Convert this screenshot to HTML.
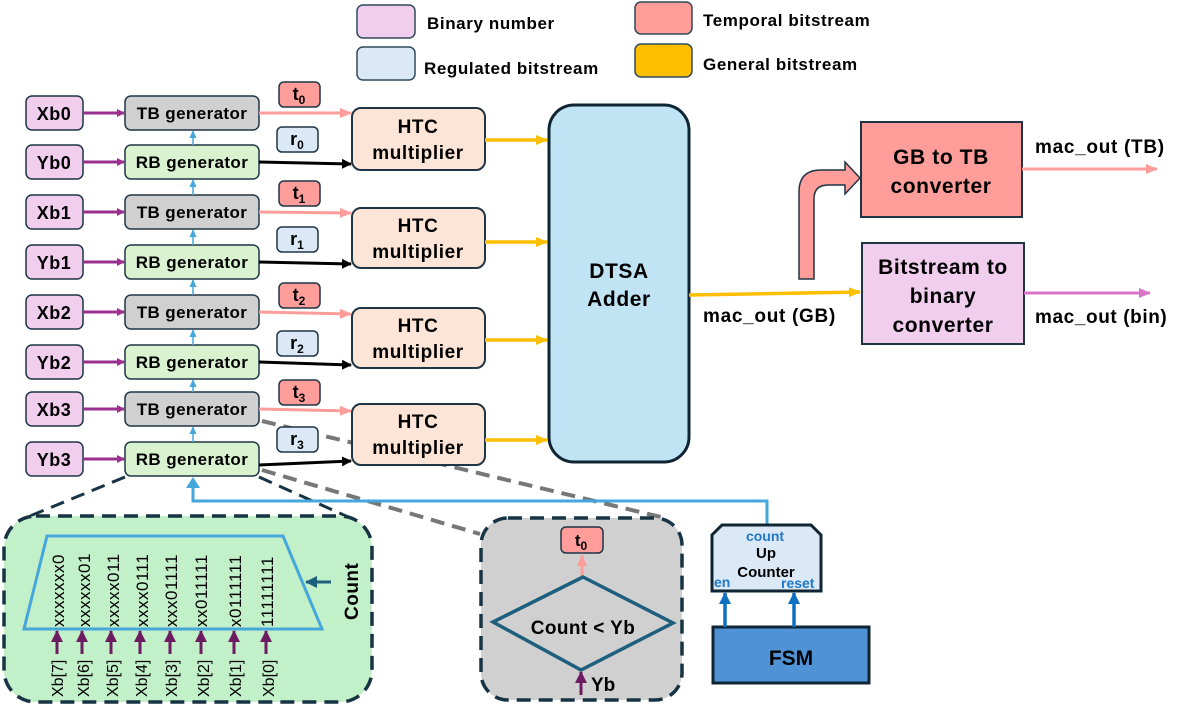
<!DOCTYPE html>
<html><head><meta charset="utf-8"><style>
body{margin:0;background:#fff}
svg{display:block;font-family:"Liberation Sans",sans-serif;font-weight:bold}
</style></head><body>
<svg width="1202" height="708" viewBox="0 0 1202 708" xmlns="http://www.w3.org/2000/svg">
<defs>
<marker id="ap" markerWidth="8" markerHeight="8" refX="7" refY="4" orient="auto" markerUnits="userSpaceOnUse"><path d="M0,0L8,4L0,8z" fill="#9b2f8f"/></marker>
<marker id="ak" markerWidth="10" markerHeight="10" refX="9" refY="5" orient="auto" markerUnits="userSpaceOnUse"><path d="M0,0L10,5L0,10z" fill="#000"/></marker>
<marker id="as" markerWidth="12" markerHeight="10" refX="11" refY="5" orient="auto" markerUnits="userSpaceOnUse"><path d="M0,0L12,5L0,10z" fill="#ff9d9a"/></marker>
<marker id="ay" markerWidth="12" markerHeight="10" refX="11" refY="5" orient="auto" markerUnits="userSpaceOnUse"><path d="M0,0L12,5L0,10z" fill="#fcbf00"/></marker>
<marker id="am" markerWidth="12" markerHeight="10" refX="11" refY="5" orient="auto" markerUnits="userSpaceOnUse"><path d="M0,0L12,5L0,10z" fill="#d974c9"/></marker>
<marker id="ab" markerWidth="8" markerHeight="7" refX="7" refY="3.5" orient="auto" markerUnits="userSpaceOnUse"><path d="M0,0L8,3.5L0,7z" fill="#45a7dc"/></marker>
<marker id="ad" markerWidth="12" markerHeight="12" refX="11" refY="6" orient="auto" markerUnits="userSpaceOnUse"><path d="M0,0L12,6L0,12z" fill="#0d70c0"/></marker>
<marker id="at" markerWidth="12" markerHeight="12" refX="11" refY="6" orient="auto" markerUnits="userSpaceOnUse"><path d="M0,0L12,6L0,12z" fill="#1f5f7e"/></marker>
<marker id="av" markerWidth="12" markerHeight="12" refX="11" refY="6" orient="auto" markerUnits="userSpaceOnUse"><path d="M0,0L12,6L0,12z" fill="#6e1c61"/></marker>
</defs>

<!-- legend -->
<g font-size="17" letter-spacing="0.6">
<rect x="357" y="5" width="58" height="33" rx="6" fill="#f1cdee" stroke="#2f4a5a" stroke-width="1.5"/>
<text x="427" y="29">Binary number</text>
<rect x="357" y="47" width="58" height="33" rx="6" fill="#dbe8f6" stroke="#2f4a5a" stroke-width="1.5"/>
<text x="424" y="74">Regulated bitstream</text>
<rect x="635" y="2" width="57" height="32" rx="6" fill="#ff9d9a" stroke="#2f4a5a" stroke-width="1.5"/>
<text x="703" y="26">Temporal bitstream</text>
<rect x="635" y="44" width="57" height="33" rx="6" fill="#fcbf00" stroke="#2f4a5a" stroke-width="1.5"/>
<text x="703" y="70">General bitstream</text>
</g>

<!-- dashed zoom lines -->
<g stroke="#777" stroke-width="4" stroke-dasharray="14,8" fill="none">
<line x1="262" y1="421" x2="665" y2="518"/>
<line x1="262" y1="470" x2="480" y2="534"/>
</g>
<g stroke="#173445" stroke-width="3" stroke-dasharray="14,8" fill="none">
<line x1="125" y1="477" x2="30" y2="516"/>
<line x1="259" y1="477" x2="355" y2="520"/>
</g>

<!-- rows -->
<g text-anchor="middle">
<g stroke="#1f3545" stroke-width="1.5">
<rect x="26" y="96" width="57" height="34" rx="6" fill="#f1cdee"/>
<rect x="26" y="145" width="57" height="34" rx="6" fill="#f1cdee"/>
<rect x="26" y="195" width="57" height="34" rx="6" fill="#f1cdee"/>
<rect x="26" y="245" width="57" height="34" rx="6" fill="#f1cdee"/>
<rect x="26" y="295" width="57" height="34" rx="6" fill="#f1cdee"/>
<rect x="26" y="345" width="57" height="34" rx="6" fill="#f1cdee"/>
<rect x="26" y="392" width="57" height="34" rx="6" fill="#f1cdee"/>
<rect x="26" y="442" width="57" height="34" rx="6" fill="#f1cdee"/>
<rect x="125" y="96" width="134" height="34" rx="6" fill="#d0d0d0"/>
<rect x="125" y="145" width="134" height="34" rx="6" fill="#d9f2d0"/>
<rect x="125" y="195" width="134" height="34" rx="6" fill="#d0d0d0"/>
<rect x="125" y="245" width="134" height="34" rx="6" fill="#d9f2d0"/>
<rect x="125" y="295" width="134" height="34" rx="6" fill="#d0d0d0"/>
<rect x="125" y="345" width="134" height="34" rx="6" fill="#d9f2d0"/>
<rect x="125" y="392" width="134" height="34" rx="6" fill="#d0d0d0"/>
<rect x="125" y="442" width="134" height="34" rx="6" fill="#d9f2d0"/>
</g>
<g font-size="18" letter-spacing="0.5">
<text x="54" y="120">Xb0</text><text x="54" y="169">Yb0</text>
<text x="54" y="219">Xb1</text><text x="54" y="269">Yb1</text>
<text x="54" y="319">Xb2</text><text x="54" y="369">Yb2</text>
<text x="54" y="416">Xb3</text><text x="54" y="466">Yb3</text>
</g>
<g font-size="17" letter-spacing="0.4">
<text x="192" y="119">TB generator</text><text x="192" y="168">RB generator</text>
<text x="192" y="218">TB generator</text><text x="192" y="268">RB generator</text>
<text x="192" y="318">TB generator</text><text x="192" y="368">RB generator</text>
<text x="192" y="415">TB generator</text><text x="192" y="465">RB generator</text>
</g>
</g>
<g stroke="#9b2f8f" stroke-width="3" marker-end="url(#ap)">
<line x1="83" y1="113" x2="124" y2="113"/><line x1="83" y1="162" x2="124" y2="162"/>
<line x1="83" y1="212" x2="124" y2="212"/><line x1="83" y1="262" x2="124" y2="262"/>
<line x1="83" y1="312" x2="124" y2="312"/><line x1="83" y1="362" x2="124" y2="362"/>
<line x1="83" y1="409" x2="124" y2="409"/><line x1="83" y1="459" x2="124" y2="459"/>
</g>
<g stroke="#45a7dc" stroke-width="1.5" marker-end="url(#ab)">
<line x1="193" y1="145" x2="193" y2="131"/><line x1="193" y1="195" x2="193" y2="180"/>
<line x1="193" y1="245" x2="193" y2="230"/><line x1="193" y1="295" x2="193" y2="280"/>
<line x1="193" y1="345" x2="193" y2="330"/><line x1="193" y1="392" x2="193" y2="380"/>
<line x1="193" y1="442" x2="193" y2="427"/>
</g>
<!-- t/r labels -->
<g stroke="#1f3545" stroke-width="1.5">
<rect x="279" y="82" width="41" height="25" rx="5" fill="#ff9d9a"/>
<rect x="277" y="127" width="41" height="25" rx="5" fill="#dbe8f6"/>
<rect x="279" y="181" width="41" height="25" rx="5" fill="#ff9d9a"/>
<rect x="277" y="227" width="41" height="25" rx="5" fill="#dbe8f6"/>
<rect x="279" y="283" width="41" height="25" rx="5" fill="#ff9d9a"/>
<rect x="277" y="331" width="41" height="25" rx="5" fill="#dbe8f6"/>
<rect x="279" y="380" width="41" height="25" rx="5" fill="#ff9d9a"/>
<rect x="277" y="427" width="41" height="25" rx="5" fill="#dbe8f6"/>
</g>
<g font-size="18" text-anchor="middle">
<text x="299" y="100">t<tspan font-size="12" dy="4">0</tspan></text>
<text x="297" y="145">r<tspan font-size="12" dy="4">0</tspan></text>
<text x="299" y="199">t<tspan font-size="12" dy="4">1</tspan></text>
<text x="297" y="245">r<tspan font-size="12" dy="4">1</tspan></text>
<text x="299" y="301">t<tspan font-size="12" dy="4">2</tspan></text>
<text x="297" y="349">r<tspan font-size="12" dy="4">2</tspan></text>
<text x="299" y="398">t<tspan font-size="12" dy="4">3</tspan></text>
<text x="297" y="445">r<tspan font-size="12" dy="4">3</tspan></text>
</g>
<g stroke="#ff9d9a" stroke-width="3" marker-end="url(#as)">
<line x1="259" y1="113" x2="351" y2="113"/><line x1="259" y1="212" x2="351" y2="213"/>
<line x1="259" y1="312" x2="351" y2="314"/><line x1="259" y1="409" x2="351" y2="411"/>
</g>
<g stroke="#000" stroke-width="3" marker-end="url(#ak)">
<line x1="259" y1="162" x2="351" y2="164"/><line x1="259" y1="262" x2="351" y2="264"/>
<line x1="259" y1="362" x2="351" y2="365"/><line x1="259" y1="465" x2="351" y2="461"/>
</g>
<!-- HTC -->
<g stroke="#1f3545" stroke-width="2" fill="#fce4d6">
<rect x="352" y="108" width="133" height="62" rx="9"/>
<rect x="352" y="208" width="133" height="60" rx="9"/>
<rect x="352" y="308" width="133" height="60" rx="9"/>
<rect x="352" y="404" width="133" height="61" rx="9"/>
</g>
<g font-size="19" text-anchor="middle" letter-spacing="0.6">
<text x="418" y="133">HTC</text><text x="418" y="159">multiplier</text>
<text x="418" y="232">HTC</text><text x="418" y="258">multiplier</text>
<text x="418" y="332">HTC</text><text x="418" y="358">multiplier</text>
<text x="418" y="428">HTC</text><text x="418" y="454">multiplier</text>
</g>
<g stroke="#fcbf00" stroke-width="3.5" marker-end="url(#ay)">
<line x1="485" y1="140" x2="547" y2="140"/><line x1="485" y1="242" x2="547" y2="242"/>
<line x1="485" y1="340" x2="547" y2="340"/><line x1="485" y1="440" x2="547" y2="440"/>
</g>
<!-- DTSA -->
<rect x="549" y="105" width="140" height="357" rx="25" fill="#c1e4f5" stroke="#0f2533" stroke-width="3"/>
<text x="619" y="278" font-size="21" text-anchor="middle" letter-spacing="0.6">DTSA</text>
<text x="619" y="306" font-size="21" text-anchor="middle" letter-spacing="0.6">Adder</text>
<line x1="689" y1="295" x2="860" y2="292" stroke="#fcbf00" stroke-width="3.5" marker-end="url(#ay)"/>
<text x="703" y="322" font-size="19" letter-spacing="0.7">mac_out (GB)</text>
<!-- bent arrow -->
<path d="M799,279 L799,192 Q799,170 821,170 L845,170 L845,162 L860,178 L845,194 L845,185 L828,185 Q814,185 814,199 L814,279 Z" fill="#ff9d9a" stroke="#1f3545" stroke-width="1.5"/>
<rect x="861" y="122" width="161" height="95" fill="#ff9d9a" stroke="#1f3545" stroke-width="2"/>
<g font-size="21" text-anchor="middle" letter-spacing="0.6">
<text x="941" y="164">GB to TB</text>
<text x="941" y="193">converter</text>
</g>
<rect x="862" y="243" width="162" height="101" fill="#f1cdee" stroke="#1f3545" stroke-width="2"/>
<g font-size="21" text-anchor="middle" letter-spacing="0.6">
<text x="943" y="274">Bitstream to</text>
<text x="943" y="303">binary</text>
<text x="943" y="332">converter</text>
</g>
<line x1="1022" y1="169" x2="1157" y2="169" stroke="#ff9d9a" stroke-width="3" marker-end="url(#as)"/>
<text x="1035" y="153" font-size="19" letter-spacing="0.7">mac_out (TB)</text>
<line x1="1024" y1="293" x2="1150" y2="293" stroke="#d974c9" stroke-width="3" marker-end="url(#am)"/>
<text x="1035" y="323" font-size="19" letter-spacing="0.6">mac_out (bin)</text>

<!-- count line -->
<polyline points="767,527 767,501 193,501 193,480" fill="none" stroke="#45a7dc" stroke-width="3"/>
<path d="M186,488 L193,477 L200,488z" fill="#45a7dc"/>

<!-- green box -->
<rect x="4" y="516" width="368" height="186" rx="32" fill="#c2f0c8" stroke="#173445" stroke-width="3.5" stroke-dasharray="14,8"/>
<polygon points="47,536 283,536 322,629 24,629" fill="none" stroke="#45a7dc" stroke-width="3"/>
<g font-size="17" font-weight="normal" fill="#000" letter-spacing="0.5">
<text transform="translate(64,627) rotate(-90)">xxxxxxx0</text>
<text transform="translate(90,627) rotate(-90)">xxxxxx01</text>
<text transform="translate(119,627) rotate(-90)">xxxxx011</text>
<text transform="translate(148,627) rotate(-90)">xxxx0111</text>
<text transform="translate(177,627) rotate(-90)">xxx01111</text>
<text transform="translate(207,627) rotate(-90)">xx011111</text>
<text transform="translate(241,627) rotate(-90)">x0111111</text>
<text transform="translate(273,627) rotate(-90)">11111111</text>
</g>
<g font-size="16" font-weight="normal" fill="#000">
<text transform="translate(63,697) rotate(-90)">Xb[7]</text>
<text transform="translate(89,697) rotate(-90)">Xb[6]</text>
<text transform="translate(118,697) rotate(-90)">Xb[5]</text>
<text transform="translate(147,697) rotate(-90)">Xb[4]</text>
<text transform="translate(177,697) rotate(-90)">Xb[3]</text>
<text transform="translate(209,697) rotate(-90)">Xb[2]</text>
<text transform="translate(241,697) rotate(-90)">Xb[1]</text>
<text transform="translate(274,697) rotate(-90)">Xb[0]</text>
</g>
<g stroke="#6e1c61" stroke-width="3" marker-end="url(#av)">
<line x1="57" y1="654" x2="57" y2="631"/><line x1="82" y1="654" x2="82" y2="631"/>
<line x1="111" y1="654" x2="111" y2="631"/><line x1="140" y1="654" x2="140" y2="631"/>
<line x1="170" y1="654" x2="170" y2="631"/><line x1="201" y1="654" x2="201" y2="631"/>
<line x1="234" y1="654" x2="234" y2="631"/><line x1="266" y1="654" x2="266" y2="631"/>
</g>
<text transform="translate(358,620) rotate(-90)" font-size="19" letter-spacing="0.5">Count</text>
<line x1="331" y1="582" x2="306" y2="582" stroke="#1f5f7e" stroke-width="3" marker-end="url(#at)"/>

<!-- gray box -->
<rect x="481" y="518" width="201" height="182" rx="27" fill="#d0d0d0" stroke="#173445" stroke-width="3.5" stroke-dasharray="14,8"/>
<rect x="561" y="527" width="42" height="26" rx="5" fill="#ff9d9a" stroke="#1f3545" stroke-width="1.5"/>
<text x="581" y="546" font-size="17" text-anchor="middle">t<tspan font-size="12" dy="4">0</tspan></text>
<line x1="582" y1="577" x2="582" y2="555" stroke="#ff9d9a" stroke-width="3" marker-end="url(#as)"/>
<polygon points="583,577 673,623 581,670 493,622" fill="none" stroke="#1f5f7e" stroke-width="3.5"/>
<text x="583" y="634" font-size="19" text-anchor="middle" letter-spacing="0.4">Count &lt; Yb</text>
<line x1="581" y1="695" x2="581" y2="672" stroke="#6e1c61" stroke-width="3" marker-end="url(#av)"/>
<text x="591" y="691" font-size="19">Yb</text>

<!-- counter -->
<path d="M722,525 L811,525 L821,535 L821,591 L712,591 L712,535 Z" fill="#dbe8f6" stroke="#0f2533" stroke-width="3"/>
<text x="765" y="541" font-size="14" fill="#1f78c8" text-anchor="middle">count</text>
<text x="766" y="558" font-size="15" text-anchor="middle">Up</text>
<text x="766" y="577" font-size="15" text-anchor="middle">Counter</text>
<text x="714" y="587" font-size="14" fill="#1f78c8">en</text>
<text x="781" y="588" font-size="14" fill="#1f78c8">reset</text>
<rect x="713" y="627" width="156" height="56" fill="#4f93d6" stroke="#0f2533" stroke-width="3"/>
<text x="791" y="665" font-size="21" text-anchor="middle">FSM</text>
<g stroke="#0d70c0" stroke-width="3.5" marker-end="url(#ad)">
<line x1="725" y1="627" x2="725" y2="593"/><line x1="794" y1="627" x2="794" y2="593"/>
</g>
</svg>
</body></html>
